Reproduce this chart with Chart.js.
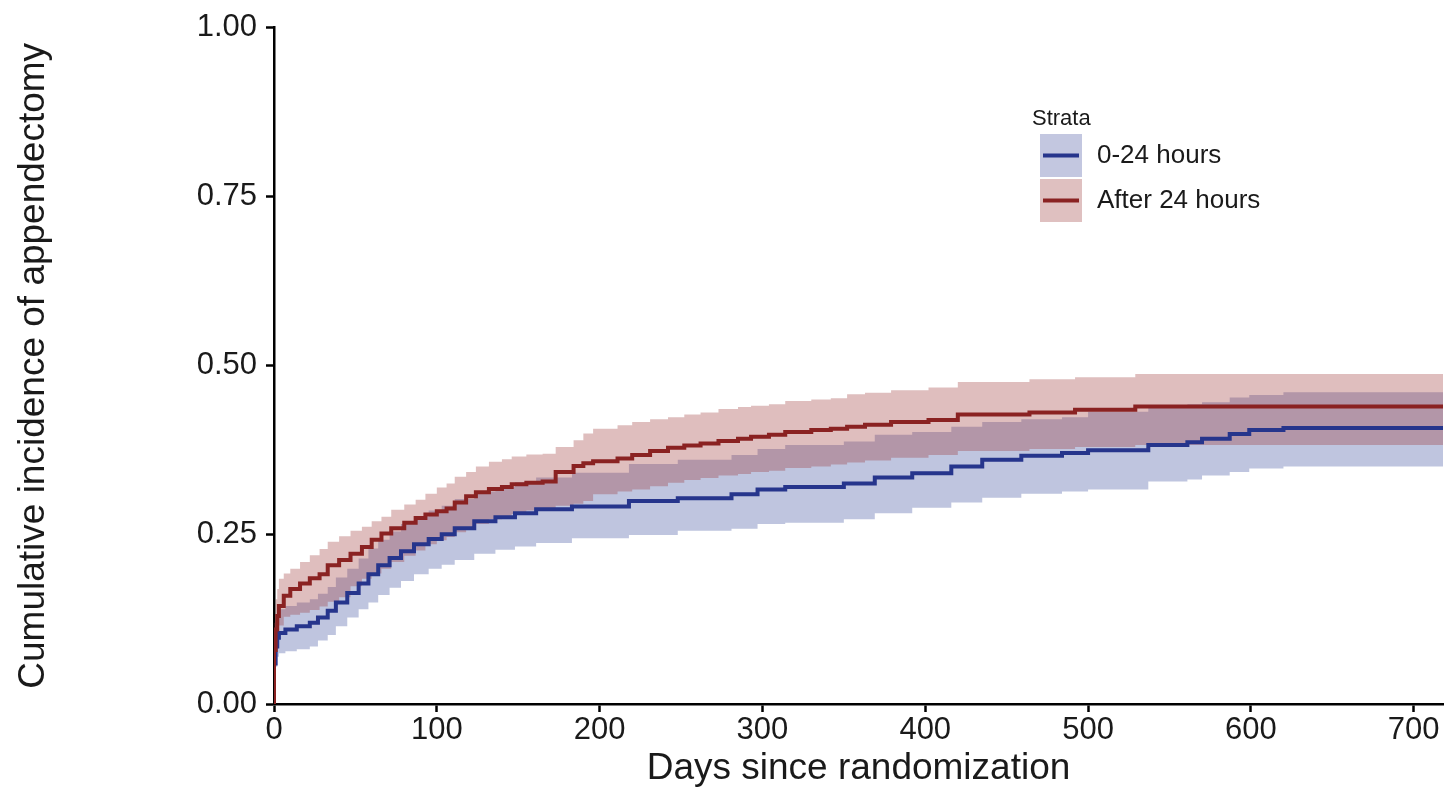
<!DOCTYPE html>
<html>
<head>
<meta charset="utf-8">
<script src="https://cdn.jsdelivr.net/npm/chart.js@4.4.1/dist/chart.umd.min.js"></script>
<style>
  html, body { margin: 0; padding: 0; background: #fff; }
  #wrap { width: 1445px; height: 794px; }
</style>
</head>
<body>
<div id="wrap"><canvas id="chart" width="1445" height="794"></canvas></div>
<script>
// --- Data (cumulative incidence, step functions) ---
const xTicks = [0, 100, 200, 300, 400, 500, 600, 700];
const yTicks = [0, 0.25, 0.5, 0.75, 1];
const xMax = 718;

const seriesNames = ['0-24 hours', 'After 24 hours'];

// 0-24 hours
const earlyDays = [0, 1, 2, 3, 7, 14, 22, 27, 33, 38, 45, 52, 58, 64, 71, 78, 86, 95, 103, 111, 123, 136, 148, 161, 183,
  218, 248, 281, 297, 314, 350, 369, 392, 416, 435, 459, 484, 500, 537, 561, 570, 587, 599, 620, 698];
const earlyEst = [0, 0.06, 0.085, 0.098, 0.105, 0.11, 0.115, 0.12, 0.128, 0.138, 0.15, 0.164, 0.178, 0.192, 0.205,
  0.216, 0.226, 0.236, 0.244, 0.251, 0.26, 0.27, 0.276, 0.282, 0.288, 0.292, 0.3, 0.304, 0.31, 0.317,
  0.321, 0.326, 0.335, 0.341, 0.351, 0.361, 0.367, 0.371, 0.375, 0.383, 0.387, 0.392, 0.399, 0.405, 0.408];
const earlyHigh = [0, 0.09, 0.12, 0.135, 0.14, 0.145, 0.15, 0.155, 0.163, 0.173, 0.187, 0.2, 0.215, 0.23, 0.243,
  0.255, 0.266, 0.277, 0.286, 0.293, 0.303, 0.314, 0.321, 0.328, 0.335, 0.342, 0.355, 0.361, 0.368, 0.377,
  0.383, 0.388, 0.398, 0.402, 0.41, 0.417, 0.421, 0.424, 0.432, 0.44, 0.443, 0.446, 0.453, 0.457, 0.461];
const earlyLow = [0, 0.035, 0.055, 0.07, 0.075, 0.078, 0.081, 0.085, 0.094, 0.102, 0.115, 0.128, 0.14, 0.15, 0.161,
  0.172, 0.182, 0.192, 0.2, 0.206, 0.213, 0.222, 0.228, 0.233, 0.238, 0.245, 0.25, 0.256, 0.259, 0.266,
  0.268, 0.273, 0.282, 0.29, 0.298, 0.305, 0.311, 0.314, 0.317, 0.329, 0.332, 0.338, 0.343, 0.348, 0.351];

// After 24 hours
const lateDays = [0, 1, 2, 3, 6, 10, 16, 22, 28, 33, 40, 47, 54, 60, 66, 72, 80, 87, 93, 100, 106, 111, 118, 124, 132,
  140, 146, 155, 165, 173, 184, 190, 196, 211, 220, 231, 242, 252, 262, 273, 285, 293, 304, 314, 330,
  342, 352, 363, 379, 402, 420, 464, 492, 529, 642];
const lateEst = [0, 0.08, 0.11, 0.13, 0.145, 0.16, 0.17, 0.178, 0.186, 0.192, 0.205, 0.213, 0.222, 0.232, 0.243,
  0.252, 0.26, 0.268, 0.275, 0.28, 0.285, 0.289, 0.298, 0.307, 0.313, 0.318, 0.321, 0.325, 0.327, 0.329,
  0.343, 0.352, 0.356, 0.359, 0.363, 0.368, 0.374, 0.379, 0.382, 0.385, 0.389, 0.392, 0.395, 0.398, 0.402,
  0.405, 0.407, 0.41, 0.413, 0.417, 0.42, 0.428, 0.431, 0.435, 0.44];
const lateHigh = [0, 0.12, 0.155, 0.17, 0.185, 0.193, 0.2, 0.21, 0.22, 0.229, 0.24, 0.248, 0.256, 0.262, 0.27,
  0.277, 0.287, 0.295, 0.302, 0.311, 0.32, 0.326, 0.336, 0.343, 0.351, 0.358, 0.362, 0.366, 0.369, 0.37,
  0.38, 0.39, 0.4, 0.407, 0.412, 0.417, 0.421, 0.424, 0.428, 0.431, 0.436, 0.439, 0.441, 0.443, 0.448,
  0.45, 0.452, 0.458, 0.46, 0.464, 0.468, 0.476, 0.48, 0.483, 0.488];
const lateLow = [0, 0.05, 0.08, 0.1, 0.116, 0.129, 0.132, 0.135, 0.139, 0.144, 0.151, 0.158, 0.174, 0.185, 0.193,
  0.2, 0.21, 0.219, 0.227, 0.236, 0.242, 0.247, 0.254, 0.259, 0.266, 0.273, 0.277, 0.281, 0.286, 0.288,
  0.293, 0.296, 0.3, 0.31, 0.314, 0.317, 0.322, 0.327, 0.331, 0.334, 0.338, 0.34, 0.343, 0.345, 0.349,
  0.351, 0.354, 0.357, 0.36, 0.364, 0.368, 0.374, 0.377, 0.38, 0.383];

// Colours
const lineColors = ['#26358c', '#8a2222'];
const bandColors = ['rgba(44, 62, 150, 0.3)', 'rgba(150, 40, 40, 0.3)'];
const keyColors = ['#c3c7e0', '#dfc0c0'];
const textColor = '#1a1a1a';

// step points, carried on to the end of the axis
function toPoints(days, vals) {
  const pts = days.map((d, i) => ({ x: d, y: vals[i] }));
  pts.push({ x: xMax, y: vals[vals.length - 1] });
  return pts;
}

function lineSet(label, days, vals, color) {
  return {
    label: label,
    data: toPoints(days, vals),
    borderColor: color,
    borderWidth: 4,
    pointRadius: 0,
    stepped: 'after',
    fill: false
  };
}

function bandEdge(days, vals, fillTarget, color) {
  return {
    label: '',
    data: toPoints(days, vals),
    borderWidth: 0,
    borderColor: 'rgba(0,0,0,0)',
    backgroundColor: color,
    pointRadius: 0,
    stepped: 'after',
    fill: fillTarget
  };
}

// drawn from last to first: blue band, red band, blue line, red line
const datasets = [
  lineSet(seriesNames[1], lateDays, lateEst, lineColors[1]),
  lineSet(seriesNames[0], earlyDays, earlyEst, lineColors[0]),
  bandEdge(lateDays, lateLow, false, bandColors[1]),
  bandEdge(lateDays, lateHigh, 2, bandColors[1]),
  bandEdge(earlyDays, earlyLow, false, bandColors[0]),
  bandEdge(earlyDays, earlyHigh, 4, bandColors[0])
];

// --- Legend drawn inside the panel, ggplot style ---
const strataLegend = {
  id: 'strataLegend',
  afterDraw(chart) {
    const ctx = chart.ctx;
    ctx.save();
    ctx.fillStyle = textColor;
    ctx.textBaseline = 'middle';
    ctx.textAlign = 'left';
    ctx.font = '22px "Liberation Sans", Arial, sans-serif';
    ctx.fillText('Strata', 1032, 119);

    const keyX = 1040, keyW = 42, keyH = 43;
    const keyTops = [134, 179];
    ctx.font = '26px "Liberation Sans", Arial, sans-serif';
    seriesNames.forEach((name, i) => {
      const top = keyTops[i];
      ctx.fillStyle = keyColors[i];
      ctx.fillRect(keyX, top, keyW, keyH);
      ctx.strokeStyle = lineColors[i];
      ctx.lineWidth = 4;
      ctx.beginPath();
      ctx.moveTo(keyX + 3, top + keyH / 2);
      ctx.lineTo(keyX + keyW - 3, top + keyH / 2);
      ctx.stroke();
      ctx.fillStyle = textColor;
      ctx.fillText(name, 1097, top + keyH / 2);
    });
    ctx.restore();
  }
};

const axisFont = { family: '"Liberation Sans", Arial, sans-serif', size: 31 };
const titleFont = { family: '"Liberation Sans", Arial, sans-serif', size: 37 };

new Chart(document.getElementById('chart'), {
  type: 'line',
  data: { datasets: datasets },
  plugins: [strataLegend],
  options: {
    responsive: false,
    animation: false,
    layout: { padding: { left: 0, right: 2, top: 23, bottom: 0 } },
    plugins: {
      legend: { display: false },
      tooltip: { enabled: false },
      filler: { drawTime: 'beforeDatasetsDraw' }
    },
    scales: {
      x: {
        type: 'linear',
        min: 0,
        max: xMax,
        afterBuildTicks: (scale) => { scale.ticks = xTicks.map(v => ({ value: v })); },
        afterFit: (scale) => { scale.height = 90; },
        ticks: { color: textColor, font: axisFont, padding: 0, maxRotation: 0 },
        grid: { drawOnChartArea: false, drawTicks: true, tickLength: 8, tickWidth: 2.5, tickColor: '#000' },
        border: { display: true, color: '#000', width: 2.5 },
        title: { display: true, text: 'Days since randomization', color: textColor, font: titleFont, padding: { top: 0, bottom: 3 } }
      },
      y: {
        type: 'linear',
        min: 0,
        max: 1,
        afterBuildTicks: (scale) => { scale.ticks = yTicks.map(v => ({ value: v })); },
        afterFit: (scale) => { scale.width = 274; },
        ticks: { color: textColor, font: axisFont, padding: 9, callback: (v) => Number(v).toFixed(2) },
        grid: { drawOnChartArea: false, drawTicks: true, tickLength: 8, tickWidth: 2.5, tickColor: '#000' },
        border: { display: true, color: '#000', width: 2.5 },
        title: { display: true, text: 'Cumulative incidence of appendectomy', color: textColor, font: titleFont, padding: { top: 12, bottom: 0 } }
      }
    }
  }
});
</script>
</body>
</html>
